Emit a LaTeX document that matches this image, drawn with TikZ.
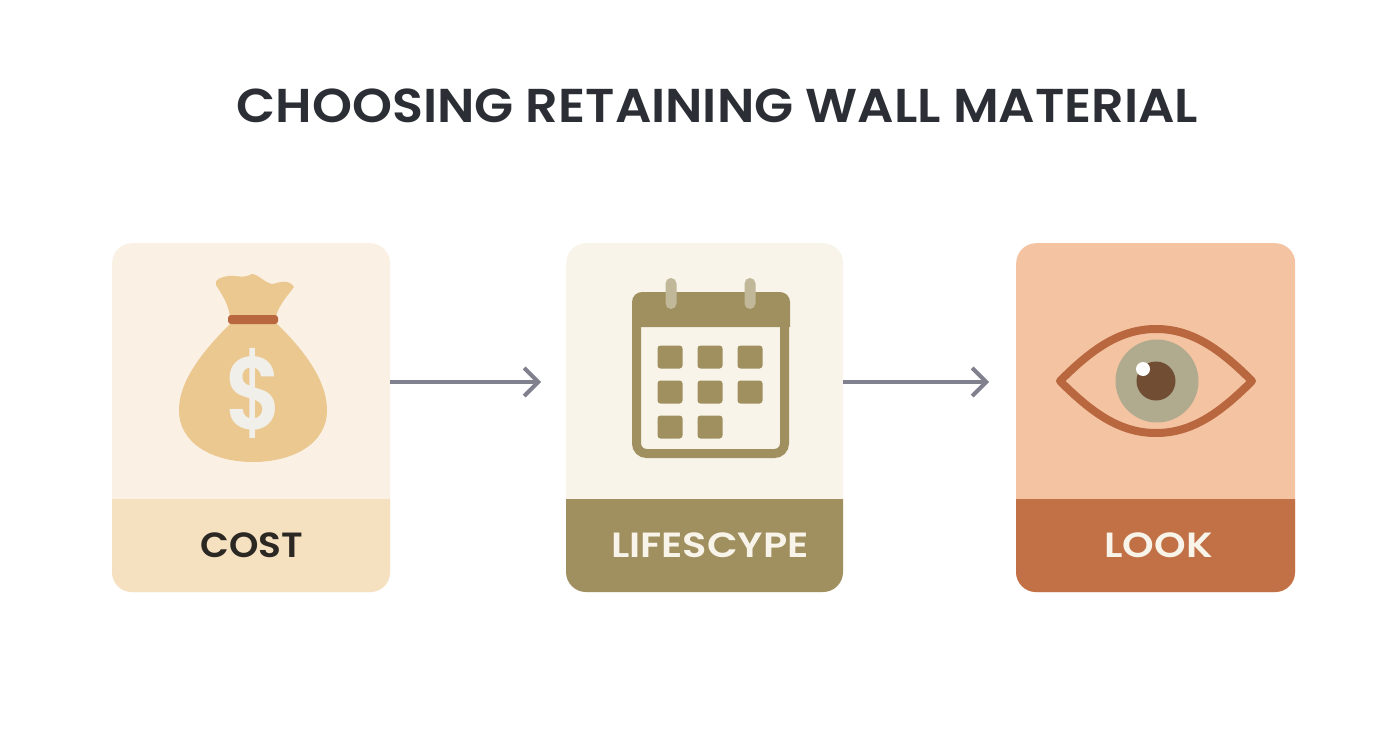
\documentclass[tikz,border=0pt]{standalone}
\usepackage{fontspec}
\setmainfont{Poppins}[BoldFont={Poppins SemiBold}]
\usetikzlibrary{arrows.meta,calc}
\definecolor{cardA}{HTML}{FAF0E4}
\definecolor{bandA}{HTML}{F5E0C0}
\definecolor{bagC}{HTML}{EBC88F}
\definecolor{tieC}{HTML}{B8673F}
\definecolor{dollarC}{HTML}{F0EFEA}
\definecolor{cardB}{HTML}{F8F4EA}
\definecolor{olive}{HTML}{A09060}
\definecolor{ringC}{HTML}{C0B898}
\definecolor{cardC}{HTML}{F3C3A2}
\definecolor{bandC}{HTML}{C27045}
\definecolor{irisC}{HTML}{B0AA8E}
\definecolor{pupilC}{HTML}{714D33}
\definecolor{titleC}{HTML}{2C2E35}
\definecolor{darkT}{HTML}{2B2722}
\definecolor{arrowC}{HTML}{80808F}
\tikzset{
  x=1pt,y=-1pt,
  cardbox/.style={rectangle,rounded corners=20pt,inner sep=0pt,minimum height=349pt,anchor=north west},
  bandlabel/.style={font=\fontsize{35}{35}\selectfont\bfseries,inner sep=0pt},
  flow/.style={draw=arrowC,line width=4pt,-{Straight Barb[length=14pt,width=28pt,line width=4pt]}},
  daybox/.style={rectangle,rounded corners=3pt,fill=olive,minimum width=25pt,minimum height=23pt,inner sep=0pt},
}
\begin{document}
\begin{tikzpicture}
\useasboundingbox (0,0) rectangle (1392,752);
\fill[white] (0,0) rectangle (1392,752);
\node[inner sep=0pt,text=titleC,font=\fontsize{47.5}{48}\selectfont\bfseries] (title) at (717.5,106) {\scalebox{1.071}[1]{CHOOSING RETAINING WALL MATERIAL}};
% cards
\node[cardbox,fill=cardA,minimum width=278pt] (cost) at (112,243) {};
\node[cardbox,fill=cardB,minimum width=277pt] (life) at (566,243) {};
\node[cardbox,fill=cardC,minimum width=279pt] (look) at (1016,243) {};
\fill[bandA] (112,499) -- (390,499) [rounded corners=20pt] -- (390,592) -- (112,592) [sharp corners] -- cycle;
\fill[olive] (566,499) -- (843,499) [rounded corners=20pt] -- (843,592) -- (566,592) [sharp corners] -- cycle;
\fill[bandC] (1016,499) -- (1295,499) [rounded corners=20pt] -- (1295,592) -- (1016,592) [sharp corners] -- cycle;
\node[bandlabel,text=darkT] (costl) at (252,545.5) {\scalebox{1.07}[1]{COST}};
\node[bandlabel,text=cardB] (lifel) at (710,545.5) {\scalebox{1.14}[1]{LIFESCYPE}};
\node[bandlabel,text=cardB] (lookl) at (1158.5,545.5) {\scalebox{1.15}[1]{LOOK}};
% money bag
\fill[bagC] (232,322) .. controls (212,342) and (179,376) .. (179,410)
  .. controls (179,445) and (215,462) .. (253,462)
  .. controls (291,462) and (327,445) .. (327,410)
  .. controls (327,376) and (296,342) .. (275,322) -- cycle;
\fill[bagC] (230,316) .. controls (228,303) and (221,293) .. (216,285)
  .. controls (214,279) and (222,277) .. (228,276)
  .. controls (236,275) and (243,279) .. (252,274)
  .. controls (258,274) and (266,284) .. (273,284)
  .. controls (280,282) and (289,279) .. (294,287)
  .. controls (288,295) and (279,305) .. (276,316) -- cycle;
\fill[tieC,rounded corners=3pt] (228,315) rectangle (278,324);
\node[inner sep=0pt,text=dollarC,font=\fontsize{88}{88}\selectfont\bfseries] (dollar) at (254,393) {\scalebox{1}[1.17]{\$}};
% calendar
\draw[olive,line width=9pt,rounded corners=10pt] (636.5,320) -- (636.5,453.5) -- (784.5,453.5) -- (784.5,320);
\fill[olive] (632,327) [rounded corners=10pt] -- (632,292) -- (790,292) [sharp corners] -- (790,327) -- cycle;
\fill[ringC,rounded corners=5.5pt] (665.5,278) rectangle (676.5,309);
\fill[ringC,rounded corners=5.5pt] (744.5,278) rectangle (755.5,309);
\foreach \n/\cx/\cy in {a/670/357,b/710/357,c/750/357,d/670/392,e/710/392,f/750/392,g/670/427,h/710/427}
  \node[daybox] (day\n) at (\cx,\cy) {};
% eye
\draw[tieC,line width=8pt,line join=round] (1060,381)
  .. controls (1092,349) and (1120,329) .. (1156,329)
  .. controls (1192,329) and (1220,349) .. (1252,381)
  .. controls (1220,413) and (1192,433) .. (1156,433)
  .. controls (1120,433) and (1092,413) .. (1060,381) -- cycle;
\fill[irisC] (1157,381) circle[radius=41.5];
\fill[pupilC] (1156,381) circle[radius=19.5];
\fill[white] (1143,369) circle[radius=7];
% connectors
\coordinate (row) at (0,382);
\draw[flow,shorten >=25pt] (cost.east |- row) -- (life.west |- row);
\draw[flow,shorten >=27pt] (life.east |- row) -- (look.west |- row);
\end{tikzpicture}
\end{document}
